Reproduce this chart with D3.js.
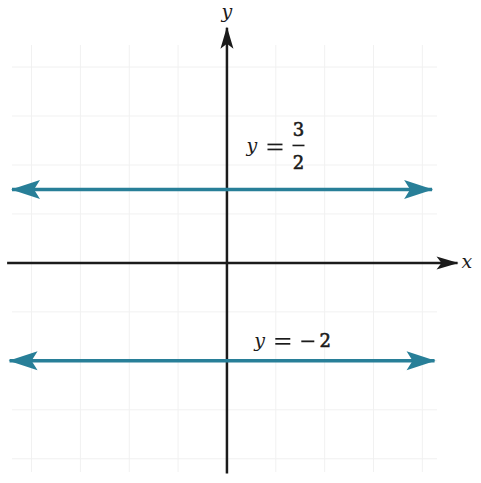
<!DOCTYPE html>
<html>
<head>
    <meta charset='utf-8'>
    <title>Horizontal lines</title>
    <script src='https://d3js.org/d3.v7.min.js'></script>
    <style>
        body { margin: 0; background: #fff; }
        text { font-family: 'DejaVu Serif', 'Liberation Serif', serif; fill: #1b1b1b; }
    </style>
</head>
<body>
<div id='chart'></div>
<script type='text/javascript'>
    // grid lines (unit steps), lines y = c and their labels
    const gridX = [-4, -3, -2, -1, 1, 2, 3, 4];
    const gridY = [-4, -3, -2, -1, 1, 2, 3, 4];
    const lineValues = [1.5, -2];
    const lineFrom = [-4.4, -4.45];
    const lineTo = [4.2, 4.25];
    const labelNum = ['3', '−'];
    const labelDen = ['2', '2'];

    const W = 481, H = 483;

    let svg = d3.select('#chart')
        .append('svg')
            .attr('width', W)
            .attr('height', H);

    // plane: 0 at (227, 263), about 49px per unit
    let x = d3.scaleLinear().domain([-4.4, 4.3]).range([12, 437]);
    let y = d3.scaleLinear().domain([4.45, -4.27]).range([45, 472]);

    // arrow heads
    let defs = svg.append('defs');
    const addMarker = (id, path, color) => {
        defs.append('marker')
            .attr('id', id)
            .attr('markerUnits', 'userSpaceOnUse')
            .attr('viewBox', '-30 -12 32 24')
            .attr('markerWidth', 32)
            .attr('markerHeight', 24)
            .attr('refX', 0)
            .attr('refY', 0)
            .attr('orient', 'auto-start-reverse')
          .append('path')
            .attr('d', path)
            .attr('fill', color);
    };
    const teal = '#287f98';
    const ink = '#1b1b1b';
    addMarker('blueHead', 'M1,0 L-28,-9.5 L-22,0 L-28,9.5 Z', teal);
    addMarker('blackHead', 'M1,0 L-21,-6.5 L-16,0 L-21,6.5 Z', ink);

    // faint grid
    let grid = svg.append('g').attr('class', 'grid')
        .attr('stroke', '#f1f1f1').attr('stroke-width', 1);

    grid.selectAll('.gx')
        .data(gridX)
        .enter()
        .append('line')
        .attr('x1', (d) => x(d)).attr('x2', (d) => x(d))
        .attr('y1', y.range()[0]).attr('y2', y.range()[1]);

    grid.selectAll('.gy')
        .data(gridY)
        .enter()
        .append('line')
        .attr('y1', (d) => y(d)).attr('y2', (d) => y(d))
        .attr('x1', x.range()[0]).attr('x2', x.range()[1]);

    // axes
    svg.append('line')
        .attr('x1', x(-4.5)).attr('x2', x(4.72))
        .attr('y1', y(0)).attr('y2', y(0))
        .attr('stroke', ink).attr('stroke-width', 2.5)
        .attr('marker-end', 'url(#blackHead)');

    svg.append('line')
        .attr('x1', x(0)).attr('x2', x(0))
        .attr('y1', y(-4.3)).attr('y2', y(4.8))
        .attr('stroke', ink).attr('stroke-width', 2.5)
        .attr('marker-end', 'url(#blackHead)');

    svg.append('text')
        .attr('x', x(4.8)).attr('y', y(0) + 5)
        .attr('font-size', '19px').attr('font-style', 'italic')
        .text('x');

    svg.append('text')
        .attr('x', x(0)).attr('y', y(4.8) - 10)
        .attr('text-anchor', 'middle')
        .attr('font-size', '19px').attr('font-style', 'italic')
        .text('y');

    // the two lines y = c
    svg.selectAll('.hline')
        .data(lineValues)
        .enter()
        .append('line')
        .attr('class', 'hline')
        .attr('x1', (d, i) => x(lineFrom[i]))
        .attr('x2', (d, i) => x(lineTo[i]))
        .attr('y1', (d) => y(d)).attr('y2', (d) => y(d))
        .attr('stroke', teal).attr('stroke-width', 3.5)
        .attr('marker-start', 'url(#blueHead)')
        .attr('marker-end', 'url(#blueHead)');

    // "y =" part of a label
    const yEquals = (g) => {
        g.append('text')
            .attr('x', 0).attr('y', 0)
            .attr('font-size', '19px').attr('font-style', 'italic')
            .text('y');
        [-8, -3].forEach((dy) => {
            g.append('line')
                .attr('x1', 21).attr('x2', 36)
                .attr('y1', dy).attr('y2', dy)
                .attr('stroke', ink).attr('stroke-width', 1.7);
        });
    };
    const digit = (g, xx, yy, s) => g.append('text')
        .attr('x', xx).attr('y', yy)
        .attr('text-anchor', 'middle')
        .attr('font-size', '18px')
        .attr('stroke', ink).attr('stroke-width', 0.6)
        .text(s);

    // label y = 3/2 (fraction)
    let lab1 = svg.append('g')
        .attr('transform', `translate(${x(0.4)},${y(lineValues[0]) - 37})`);
    yEquals(lab1);
    digit(lab1, 52, -16, labelNum[0]);
    lab1.append('line')
        .attr('x1', 46).attr('x2', 58)
        .attr('y1', -7).attr('y2', -7)
        .attr('stroke', ink).attr('stroke-width', 1.6);
    digit(lab1, 52, 17, labelDen[0]);

    // label y = -2
    let lab2 = svg.append('g')
        .attr('transform', `translate(${x(0.56)},${y(lineValues[1]) - 14})`);
    yEquals(lab2);
    lab2.append('line')
        .attr('x1', 47).attr('x2', 60)
        .attr('y1', -5.5).attr('y2', -5.5)
        .attr('stroke', ink).attr('stroke-width', 1.8);
    digit(lab2, 71, 0, labelDen[1]);
</script>
</body>
</html>
